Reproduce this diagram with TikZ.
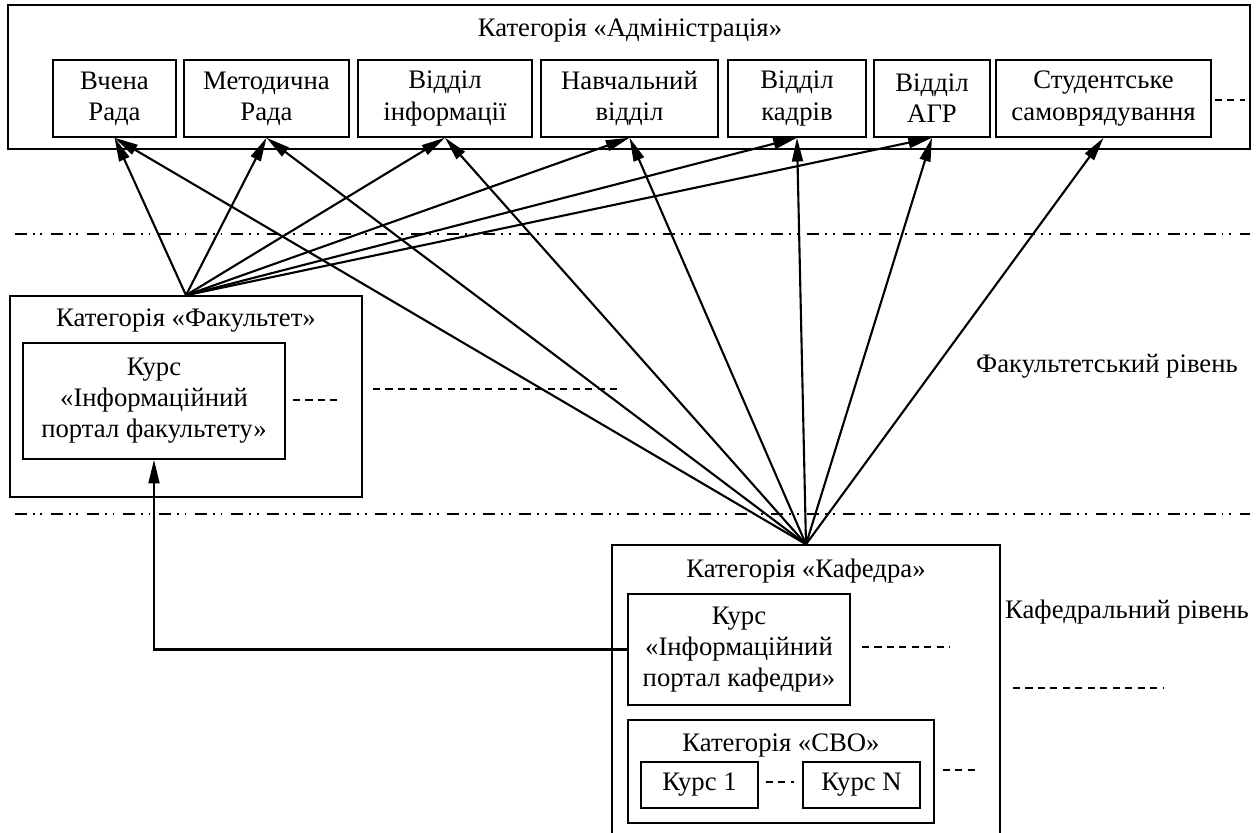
\documentclass[tikz,border=0pt]{standalone}
\usepackage{fontspec}
\setmainfont{Liberation Serif}
\usepackage{tikz}
\usetikzlibrary{positioning, arrows.meta}

\begin{document}
\begin{tikzpicture}[x=0.02cm, y=-0.02cm,
    font=\fontsize{15.2}{17.7}\selectfont,
    frame/.style={draw, line width=0.85pt, inner sep=0pt},
    box/.style={draw, line width=0.85pt, align=center, inner sep=0pt,
                minimum height=1.54cm},
    arr/.style={-{Triangle[length=13.5pt, width=6.2pt]}, line width=1.2pt},
    dots/.style={line width=0.85pt, dash pattern=on 4pt off 3.1pt},
    level/.style={line width=0.85pt,
                  dash pattern=on 6.8pt off 3.4pt on 1.1pt off 3.2pt on 1.1pt off 4.9pt}
  ]
  \useasboundingbox (0,0) rectangle (1257,832);

  % administration
  \node[frame, minimum width=24.84cm, minimum height=2.88cm] (admin) at (629,77) {};
  \node (admtitle) at (630,30) {Категорія «Адміністрація»};
  \node[box, minimum width=2.46cm] (vr) at (114.5,98.5) {Вчена\\Рада};
  \node[box, minimum width=3.30cm] (mr) at (266.5,98.5) {Методична\\Рада};
  \node[box, minimum width=3.48cm] (vi) at (445,98.5) {Відділ\\інформації};
  \node[box, minimum width=3.54cm] (nv) at (629.5,98.5) {Навчальний\\відділ};
  \node[box, minimum width=2.76cm] (vk) at (797,98.5) {Відділ\\кадрів};
  \node[box, minimum width=2.32cm] (agr) at (932,98.5) {Відділ\\АГР};
  \node[box, minimum width=4.30cm] (ss) at (1103.5,98.5) {Студентське\\самоврядування};
  \coordinate (ssmore) at (1245,100);
  \draw[dots] (ss.east |- ssmore) ++(3,0) -- (ssmore);

  % levels
  \coordinate (l1a) at (15,234);  \coordinate (l1b) at (1250,234);
  \coordinate (l2a) at (15,514);  \coordinate (l2b) at (1250,514);
  \draw[level] (l1a) -- (l1b);
  \draw[level] (l2a) -- (l2b);

  % faculty
  \node[frame, minimum width=7.04cm, minimum height=4.02cm] (fac) at (186,396.5) {};
  \node (factitle) at (186,321) {Категорія «Факультет»};
  \node[box, minimum width=5.24cm, minimum height=2.32cm] (fportal) at (154,401)
    {Курс\\«Інформаційний\\портал факультету»};
  \coordinate (fmore1) at (293,400);  \coordinate (fmore2) at (337,400);
  \coordinate (fmore3) at (373,389);  \coordinate (fmore4) at (622,389);
  \draw[dots] (fmore1) -- (fmore2);
  \draw[dots] (fmore3) -- (fmore4);
  \node (faclevel) at (1107,366) {Факультетський рівень};

  % department
  \node[frame, minimum width=7.76cm, minimum height=5.84cm] (kaf) at (806,691) {};
  \node (kaftitle) at (806,571) {Категорія «Кафедра»};
  \node[box, minimum width=4.44cm, minimum height=2.22cm] (kportal) at (739,649.5)
    {Курс\\«Інформаційний\\портал кафедри»};
  \coordinate (kmore1) at (862,647);  \coordinate (kmore2) at (950,647);
  \coordinate (kmore3) at (1013,688); \coordinate (kmore4) at (1163,688);
  \draw[dots] (kmore1) -- (kmore2);
  \draw[dots] (kmore3) -- (kmore4);
  \node (kaflevel) at (1127,612) {Кафедральний рівень};

  \node[frame, minimum width=6.12cm, minimum height=2.06cm] (svo) at (781,771.5) {};
  \node (svotitle) at (781,745) {Категорія «СВО»};
  \node[box, minimum width=2.34cm, minimum height=0.92cm] (k1) at (699.5,785) {Курс 1};
  \node[box, minimum width=2.34cm, minimum height=0.92cm] (kn) at (861.5,785) {Курс N};
  \draw[dots] ([shift={(7,-3)}]k1.east) -- ([shift={(-8,-3)}]kn.west);
  \coordinate (svomore) at (978,770);
  \draw[dots] (svo.east |- svomore) ++(8,0) -- (svomore);

  % links
  \foreach \t in {vr, mr, vi, nv, vk, agr}
    \draw[arr] (fac.north) -- (\t.south);
  \foreach \t in {vr, mr, vi, nv, vk, agr, ss}
    \draw[arr] (kaf.north) -- (\t.south);
  \draw[arr] (kportal.west) -| (fportal.south);
\end{tikzpicture}
\end{document}
